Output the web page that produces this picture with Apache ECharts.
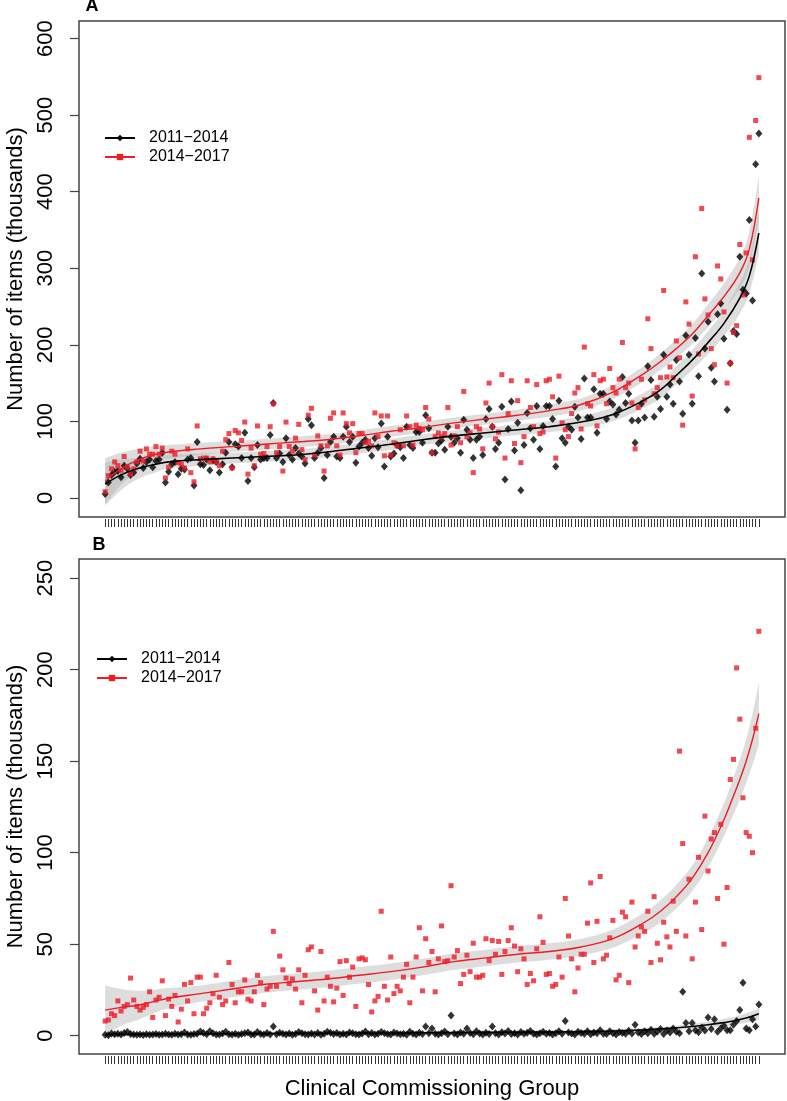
<!DOCTYPE html>
<html><head><meta charset="utf-8">
<script src="https://cdn.jsdelivr.net/npm/echarts@6/dist/echarts.min.js"></script>
<style>html,body{margin:0;padding:0;background:#fff}#c{width:787px;height:1101px}</style>
</head><body><div id="c"></div>
<script>
const N = 207;
const ccg = Array.from({length: N}, (_, i) => i + 1);
const seriesNames = ['2011\u22122014', '2014\u22122017'];

// Panel A: number of items (thousands)
const aBlack = [5,20,30,34,35,27,42,38,30,33, 45,51,39,47,50,40,48,50,59,20, 34,44,47,31,38,37,50,52,16,73,
  44,43,50,36,49,47,33,44,59,73, 40,70,67,52,85,22,52,40,69,50, 52,52,82,124,52,58,47,78,56,50,
  65,58,54,45,103,95,52,59,65,26, 56,73,80,54,52,80,93,73,80,46, 67,72,76,65,55,78,66,97,41,80,
  54,58,69,66,52,93,69,65,86,86, 72,108,91,59,59,71,75,63,93,80, 72,78,59,102,89,76,52,76,80,56,
  103,116,93,64,72,119,24,90,126,62, 98,10,69,111,91,76,120,64,94,120, 120,103,41,127,78,72,93,89,119,105,
  77,156,105,105,142,85,136,136,103,126, 122,109,115,158,124,136,101,72,101,123, 105,172,154,106,132,116,187,132,148,123,
  180,152,110,212,187,123,209,159,293,195, 230,170,152,240,254,208,115,176,218,214, 315,272,267,363,258,436,476];
const aRed = [8,29,38,47,42,36,54,40,31,38, 47,61,48,64,57,57,67,57,65,26, 40,61,57,46,44,39,64,33,21,94,
  51,52,52,47,51,47,42,61,76,84, 39,88,85,75,99,31,65,42,94,57, 58,67,93,123,59,67,35,99,67,61,
  78,96,63,50,108,117,56,81,68,35, 68,104,111,68,56,111,97,85,97,59, 84,84,72,74,68,111,80,107,55,107,
  56,72,68,89,68,107,93,69,95,91, 89,118,103,59,80,85,80,84,118,69, 81,93,72,139,80,85,33,93,90,64,
  124,150,93,77,86,161,52,110,153,71, 127,46,80,153,118,93,148,84,86,153, 155,132,52,159,98,89,80,110,137,144,
  90,197,123,120,161,94,153,155,123,169, 144,137,155,203,144,150,124,64,118,155, 128,234,195,136,144,157,271,158,171,157,
  205,183,95,256,227,133,315,188,378,260, 239,195,174,303,286,243,150,176,216,225, 331,265,320,471,311,493,549];
const aFitX = [1,6,11,16,21,31,41,51,61,71,81,91,101,111,121,131,141,151,161,171,176,181,186,191,196,201,204,207];
const aBlackFit = [18,30,38,43,47,50,52,54,56,60,65,70,76,81,85,89,93,99,109,128,141,160,180,203,228,261,290,346];
const aBlackLow = [-10,10,24,32,38,42,45,47,49,53,58,63,69,74,78,82,86,91,100,118,130,148,167,188,211,241,267,319];
const aBlackHigh = [46,50,52,54,56,58,59,61,63,67,72,77,83,88,92,96,100,107,118,138,152,172,193,218,245,281,313,373];
const aRedFit = [22,38,49,56,60,64,67,70,73,76,81,87,92,98,103,108,114,122,138,163,178,195,214,238,263,294,325,392];
const aRedLow = [-8,17,34,45,51,56,60,63,66,69,74,80,85,91,96,101,106,114,129,153,167,183,201,223,246,274,302,364];
const aRedHigh = [52,59,64,67,69,72,74,77,80,83,88,94,99,105,110,115,122,130,147,173,189,207,227,253,280,314,348,420];

// Panel B
const bBlack = [0.5,0.3,1.2,0.8,1.0,0.6,1.5,2.0,0.9,0.7, 0.5,0.6,0.4,0.8,0.5,0.7,0.9,0.5,0.6,1.0,
  0.7,0.5,1.1,0.6,0.8,1.8,0.6,0.5,0.9,1.0, 2.3,1.5,0.8,2.5,1.4,0.7,0.6,1.2,2.1,0.8,
  0.6,1.0,0.5,0.9,1.3,1.8,0.7,0.6,2.0,0.9, 0.6,1.5,0.7,5,0.8,1.6,1.0,0.7,1.2,0.5,
  0.9,2.0,1.4,0.8,0.6,1.2,0.7,1.5,0.5,1.0, 2.2,1.6,0.9,1.5,0.7,1.1,0.6,1.8,1.3,0.8,
  0.7,1.2,2.3,0.8,1.5,0.6,1.0,2.0,1.4,0.9, 0.6,1.7,1.2,0.8,1.1,0.5,2.2,1.0,0.7,1.6,
  0.9,5,1.3,4,1.0,0.6,1.4,2.3,0.8,11, 1.2,0.7,1.8,1.1,4,1.5,0.8,2.5,1.2,0.6,
  1.6,0.9,5,1.4,0.7,1.9,1.2,2.6,0.9,1.3, 0.6,2.0,1.0,1.6,2.6,1.1,0.7,1.4,2.2,1.0,
  1.5,0.6,1.3,2.4,1.0,8,1.8,1.2,0.7,2.1, 1.5,1.0,2.5,0.8,1.7,1.3,3.0,1.1,0.9,2.4,
  1.3,0.7,2.0,1.5,1.0,2.7,1.2,6,1.8,0.9, 2.5,1.4,3.2,1.0,2.1,3.6,0.9,2.8,1.7,3.9,
  2.2,1.3,24,7,2.5,7,3.0,1.9,4.5,2.8, 10,3.6,9,2.2,4,5.5,3,3,6,8, 14,29,4,3,9,5,17];
const bRed = [8,8.6,12,11,19,13.5,16,17,31.5,19.5, 16,14,15.5,17,24,10,19.5,21,30,11,
  20,16,22,7.5,14.5,28,19,29,12,32, 32,12,15,18,23,33,21,17,19,40,
  28,18,24,24,30.5,20,19,24,33,29, 17,25.5,27,57,27,43.5,36,31.5,28.5,31,
  25.5,36,18,33,47,48.5,24.5,14,46,19, 32,27,18.5,26,40.5,22,41,32,37.5,16,
  42,42.5,41.5,28,13,19,21.5,68,27,19.5, 43,23,27,24.5,32,39,18,32,43,59,
  24.5,53,40,46,24,42,60,40.5,41,82, 43,46.5,28.5,33.5,44,35,50.5,32,32,33,
  53,41,52,44.5,51.5,33.5,46,52,59,49, 35,47.5,42,28,34,30,47.5,65,51,33.5,
  34,27,28,43,32,75,54.5,42,24,37, 44.5,44.5,61.5,83.5,40,62.5,87,42,44,53.5,
  63,30.5,33,67.5,65,29,73,48.5,54.5,59.5, 57,68,40,76,50.5,41.5,62,54,48.5,73.5,
  57,155.5,105,54.5,85.5,42,73,97.5,58,120, 90,107.5,111,75,115.5,50,81,140,151,201,
  173,130,111,109,100,168,221];
const bFitX = [1,6,11,16,21,31,41,51,61,71,81,91,101,111,121,131,141,151,161,171,176,181,186,191,196,199,201,203,205,207];
const bRedFit = [14,15.5,16.5,18.5,20.5,23,25.5,28,29.5,31,33,35,37.5,40.5,42.5,44.5,46,48.5,53,62,68,76,86,100,118,131,140,150,162,176];
const bRedLow = [0.5,5.5,8.5,12,15,18.5,21,23.5,25,26.5,28.5,30.5,33,36,38,40,41.5,44,48,56.5,62,69.5,79,92,109,121,129,138,148,159];
const bRedHigh = [27.5,25.5,24.5,25,26,27.5,30,32.5,34,35.5,37.5,39.5,42,45,47,49,50.5,53,58,67.5,74,82.5,93,108,127,141,151,162,176,193];
const bBlackFit = [0.6,0.7,0.8,0.9,0.9,1.0,1.1,1.2,1.3,1.3,1.4,1.5,1.6,1.7,1.8,1.9,2.0,2.2,2.6,3.2,3.7,4.3,5.0,6.0,7.2,8.0,8.8,9.7,10.7,12.0];
const bBlackLow = [-0.9,-0.4,0,0.1,0.1,0.2,0.3,0.4,0.5,0.5,0.6,0.7,0.8,0.9,1.0,1.1,1.2,1.4,1.7,2.2,2.6,3.1,3.6,4.3,5.2,5.8,6.4,7.1,7.7,8.8];
const bBlackHigh = [2.1,1.8,1.6,1.7,1.7,1.8,1.9,2.0,2.1,2.1,2.2,2.3,2.4,2.5,2.6,2.7,2.8,3.0,3.5,4.2,4.8,5.5,6.4,7.7,9.2,10.2,11.2,12.3,13.5,15.2];

const yTicksA = [0,100,200,300,400,500,600];
const yTicksB = [0,50,100,150,200,250];

const FONT = 'Liberation Sans, Arial, Helvetica, sans-serif';
const RED = '#ee1c25';
const BAND = 'rgba(165,165,165,0.38)';
const xPad = 0.04 * (N - 1);

const pair = (xs, ys) => xs.map((x, i) => [x, ys[i]]);

// Catmull-Rom style smooth path through pixel points (continuing an existing path)
function curveThrough(pts) {
  let d = '';
  for (let i = 0; i < pts.length - 1; i++) {
    const p0 = pts[i - 1] || pts[i], p1 = pts[i], p2 = pts[i + 1], p3 = pts[i + 2] || pts[i + 1];
    const c1 = [p1[0] + (p2[0] - p0[0]) / 6, p1[1] + (p2[1] - p0[1]) / 6];
    const c2 = [p2[0] - (p3[0] - p1[0]) / 6, p2[1] - (p3[1] - p1[1]) / 6];
    d += ' C' + c1[0].toFixed(2) + ' ' + c1[1].toFixed(2) + ' ' + c2[0].toFixed(2) + ' ' + c2[1].toFixed(2) + ' ' + p2[0].toFixed(2) + ' ' + p2[1].toFixed(2);
  }
  return d;
}

function bandSeries(g, xs, lo, hi) {
  return {type:'custom', xAxisIndex:g, yAxisIndex:g, silent:true, z:1, clip:true,
    data:[[xs[0], lo[0]]],
    renderItem:(params, api) => {
      const up = xs.map((x, i) => api.coord([x, hi[i]]));
      const dn = xs.map((x, i) => api.coord([x, lo[i]])).reverse();
      const d = 'M' + up[0][0] + ' ' + up[0][1] + curveThrough(up) +
                ' L' + dn[0][0] + ' ' + dn[0][1] + curveThrough(dn) + ' Z';
      return {type:'path', shape:{pathData:d}, style:{fill:BAND, stroke:null}};
    }};
}

function panelSeries(g, blk, red, fx, bFit, bLo, bHi, rFit, rLo, rHi) {
  return [
    {name:seriesNames[0], type:'line', xAxisIndex:g, yAxisIndex:g, smooth:0.4, symbol:'diamond', symbolSize:[7,9],
     showSymbol:false, lineStyle:{color:'#000', width:1.6}, itemStyle:{color:'#000'}, data:pair(fx, bFit), z:5},
    {name:seriesNames[1], type:'line', xAxisIndex:g, yAxisIndex:g, smooth:0.4, symbol:'rect', symbolSize:6,
     showSymbol:false, lineStyle:{color:RED, width:1.4}, itemStyle:{color:RED}, data:pair(fx, rFit), z:5},
    bandSeries(g, fx, bLo, bHi),
    bandSeries(g, fx, rLo, rHi),
    {name:seriesNames[0], type:'scatter', xAxisIndex:g, yAxisIndex:g, symbol:'diamond', symbolSize:[7,8],
     itemStyle:{color:'#000'}, data:pair(ccg, blk), z:3},
    {name:seriesNames[1], type:'scatter', xAxisIndex:g, yAxisIndex:g, symbol:'rect', symbolSize:5,
     itemStyle:{color:RED}, data:pair(ccg, red), z:3}
  ];
}

function xAxisCfg(g, withName) {
  const c = {type:'value', gridIndex:g, min:1 - xPad, max:N + xPad, offset:2,
    axisLine:{show:false, onZero:false}, splitLine:{show:false}, axisLabel:{show:false},
    axisTick:{show:true, customValues:ccg, length:8, lineStyle:{color:'#333', width:1}}};
  if (withName) {
    c.name = 'Clinical Commissioning Group';
    c.nameLocation = 'middle';
    c.nameGap = 22;
    c.nameTextStyle = {fontFamily:FONT, fontSize:22, color:'#000'};
  }
  return c;
}
function yAxisCfg(g, min, max, ticks) {
  return {type:'value', gridIndex:g, min:min, max:max,
    name:'Number of items (thousands)', nameLocation:'middle', nameGap:52,
    nameTextStyle:{fontFamily:FONT, fontSize:22, color:'#000'},
    axisLine:{show:false, onZero:false}, splitLine:{show:false},
    axisTick:{show:true, customValues:ticks, length:9, lineStyle:{color:'#444', width:1.2}},
    axisLabel:{customValues:ticks, rotate:90, margin:22, fontFamily:FONT, fontSize:22, color:'#000'}};
}

const legendCommon = {orient:'vertical', selectedMode:false, padding:0, itemWidth:30, itemHeight:8, itemGap:3,
  textStyle:{fontFamily:FONT, fontSize:16, color:'#000', padding:[0,0,0,9]}, data:seriesNames};

const option = {
  animation:false,
  backgroundColor:'#fff',
  grid:[
    {left:79, top:21, right:2, height:496, show:true, outerBoundsMode:'none', containLabel:false,
     borderColor:'#444', borderWidth:1.5, backgroundColor:'transparent'},
    {left:79, top:559, right:2, height:495, show:true, outerBoundsMode:'none', containLabel:false,
     borderColor:'#444', borderWidth:1.5, backgroundColor:'transparent'}
  ],
  xAxis:[xAxisCfg(0,false), xAxisCfg(1,true)],
  yAxis:[yAxisCfg(0,-25,623,yTicksA), yAxisCfg(1,-10,260.5,yTicksB)],
  legend:[
    Object.assign({left:104, top:130}, legendCommon),
    Object.assign({left:96, top:651}, legendCommon)
  ],
  graphic:[
    {type:'text', x:92, y:6, style:{text:'A', font:'bold 18px ' + FONT, fill:'#000', align:'center', verticalAlign:'middle'}},
    {type:'text', x:99, y:545, style:{text:'B', font:'bold 18px ' + FONT, fill:'#000', align:'center', verticalAlign:'middle'}}
  ],
  series:[
    ...panelSeries(0, aBlack, aRed, aFitX, aBlackFit, aBlackLow, aBlackHigh, aRedFit, aRedLow, aRedHigh),
    ...panelSeries(1, bBlack, bRed, bFitX, bBlackFit, bBlackLow, bBlackHigh, bRedFit, bRedLow, bRedHigh)
  ]
};
const chart = echarts.init(document.getElementById('c'), null, {renderer:'canvas'});
chart.setOption(option);
</script></body></html>
